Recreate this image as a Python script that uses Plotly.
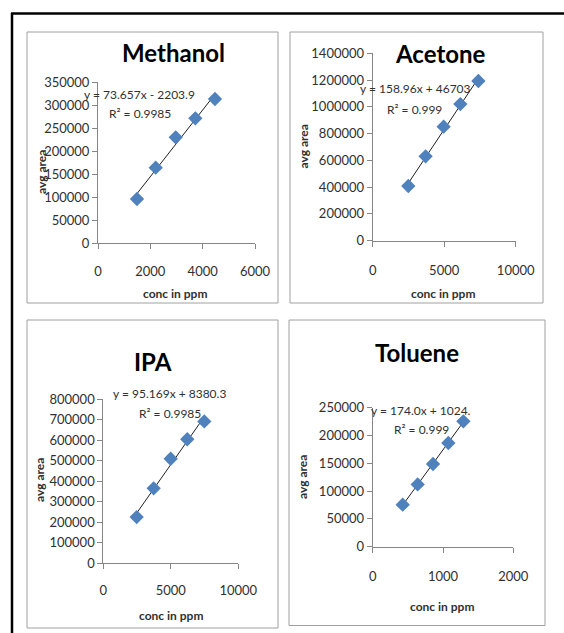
import numpy as np
import plotly.graph_objects as go

W, H = 564, 633

# ---- data ----
names = ["Methanol", "Acetone", "IPA", "Toluene"]
meth_x = [1490, 2205, 2970, 3720, 4470]
meth_y = [95600, 163700, 229800, 271000, 313000]
acet_x = [2490, 3700, 4960, 6130, 7390]
acet_y = [408600, 630500, 851700, 1021000, 1193000]
ipa_x = [2470, 3730, 4990, 6220, 7480]
ipa_y = [225000, 365000, 509000, 604000, 691000]
tol_x = [427, 640, 858, 1076, 1290]
tol_y = [75500, 112000, 148700, 186500, 225500]
equations = ["y = 73.657x - 2203.9", "y = 158.96x + 46703", "y = 95.169x + 8380.3", "y = 174.0x + 1024."]
r2_labels = ["R² = 0.9985", "R² = 0.999", "R² = 0.9985", "R² = 0.999"]
x_ranges = [[0, 6000], [0, 10000], [0, 10000], [0, 2000]]
y_ranges = [[0, 350000], [0, 1400000], [0, 800000], [0, 250000]]
x_dticks = [2000, 5000, 5000, 1000]
y_dticks = [50000, 200000, 100000, 50000]
x_title = "conc in ppm"
y_title = "avg area"

series = [(meth_x, meth_y), (acet_x, acet_y), (ipa_x, ipa_y), (tol_x, tol_y)]

# ---- layout (pixels) ----
plot_boxes = [  # x0, x1, ytop, ybottom
    (98, 255, 82, 243),
    (372.7, 515.7, 53.3, 240.7),
    (103.3, 238.3, 399, 563.3),
    (372.7, 513.3, 407.7, 546.7),
]
panels = [(27, 278, 32, 303), (290, 543, 32, 303), (27, 278, 320, 628), (289, 545, 320, 625.5)]
title_pos = [(173, 53), (440, 54), (153, 361), (417, 352)]
xtitle_pos = [(175, 293), (443, 293), (171, 615), (442, 606)]
ytitle_pos = [(41, 172), (302.5, 147), (40, 480), (302, 477)]
eq_pos = [(139.5, 94), (415, 88), (169, 393), (421, 410)]
r2_pos = [(139.5, 114), (414.5, 110), (169.5, 413), (421.5, 429)]
xlab_standoff = [11, 13, 10, 13]


def px(x):
    return x / W


def py(y):
    return 1 - y / H


FONT = "Lato"
AXC = "#868686"
fig = go.Figure()
annotations = []
shapes = []

for i, (xs, ys) in enumerate(series):
    sfx = "" if i == 0 else str(i + 1)
    xa, ya = "x" + sfx, "y" + sfx
    # trendline via least squares from data
    k, b = np.polyfit(xs, ys, 1)
    lx = np.array([min(xs), max(xs)])
    fig.add_trace(go.Scatter(x=lx, y=k * lx + b, mode="lines",
                             line=dict(color="#202020", width=1),
                             xaxis=xa, yaxis=ya, showlegend=False, hoverinfo="skip"))
    fig.add_trace(go.Scatter(x=xs, y=ys, mode="markers",
                             marker=dict(symbol="diamond", size=11, color="#4F81BD",
                                         line=dict(width=0)),
                             xaxis=xa, yaxis=ya, showlegend=False))
    x0, x1, yt, yb = plot_boxes[i]
    fig.layout["xaxis" + sfx] = dict(
        domain=[px(x0), px(x1)], anchor=ya, range=x_ranges[i], dtick=x_dticks[i], tick0=0,
        showline=True, linecolor=AXC, linewidth=1, ticks="outside", ticklen=5,
        tickcolor=AXC, showgrid=False, zeroline=False, tickformat="d", automargin=False,
        ticklabelstandoff=xlab_standoff[i],
        tickfont=dict(family=FONT, size=13, color="#303030"))
    fig.layout["yaxis" + sfx] = dict(
        domain=[py(yb), py(yt)], anchor=xa, range=y_ranges[i], dtick=y_dticks[i], tick0=0,
        showline=True, linecolor=AXC, linewidth=1, ticks="outside", ticklen=5,
        tickcolor=AXC, showgrid=False, zeroline=False, tickformat="d", automargin=False,
        tickfont=dict(family=FONT, size=13, color="#303030"))

    # panel border
    p = panels[i]
    shapes.append(dict(type="rect", xref="paper", yref="paper",
                       x0=px(p[0]), x1=px(p[1]), y0=py(p[3]), y1=py(p[2]),
                       line=dict(color="#A0A0A0", width=1)))
    # texts
    annotations.append(dict(text="<b>" + names[i] + "</b>", x=px(title_pos[i][0]), y=py(title_pos[i][1]),
                            xref="paper", yref="paper", showarrow=False,
                            xanchor="center", yanchor="middle",
                            font=dict(family=FONT, size=24, color="#000000")))
    annotations.append(dict(text="<b>" + x_title + "</b>", x=px(xtitle_pos[i][0]), y=py(xtitle_pos[i][1]),
                            xref="paper", yref="paper", showarrow=False,
                            xanchor="center", yanchor="middle",
                            font=dict(family=FONT, size=12, color="#303030")))
    annotations.append(dict(text="<b>" + y_title + "</b>", x=px(ytitle_pos[i][0]), y=py(ytitle_pos[i][1]),
                            xref="paper", yref="paper", showarrow=False, textangle=-90,
                            xanchor="center", yanchor="middle",
                            font=dict(family=FONT, size=12, color="#303030")))
    annotations.append(dict(text=equations[i], x=px(eq_pos[i][0]), y=py(eq_pos[i][1]),
                            xref="paper", yref="paper", showarrow=False,
                            xanchor="center", yanchor="middle",
                            font=dict(family=FONT, size=12, color="#303030")))
    annotations.append(dict(text=r2_labels[i], x=px(r2_pos[i][0]), y=py(r2_pos[i][1]),
                            xref="paper", yref="paper", showarrow=False,
                            xanchor="center", yanchor="middle",
                            font=dict(family=FONT, size=12, color="#303030")))

# outer black frame (top + left)
shapes.append(dict(type="line", xref="paper", yref="paper", x0=px(11), x1=1, y0=py(13.5), y1=py(13.5),
                   line=dict(color="#000000", width=2.5)))
shapes.append(dict(type="line", xref="paper", yref="paper", x0=px(12), x1=px(12), y0=py(13), y1=0,
                   line=dict(color="#000000", width=2.5)))

fig.update_layout(width=W, height=H, margin=dict(l=0, r=0, t=0, b=0, autoexpand=False),
                  paper_bgcolor="white", plot_bgcolor="white",
                  annotations=annotations, shapes=shapes, showlegend=False)

fig.write_html("out.html", config={"displayModeBar": False},
               post_script="document.body.style.margin='0';")
